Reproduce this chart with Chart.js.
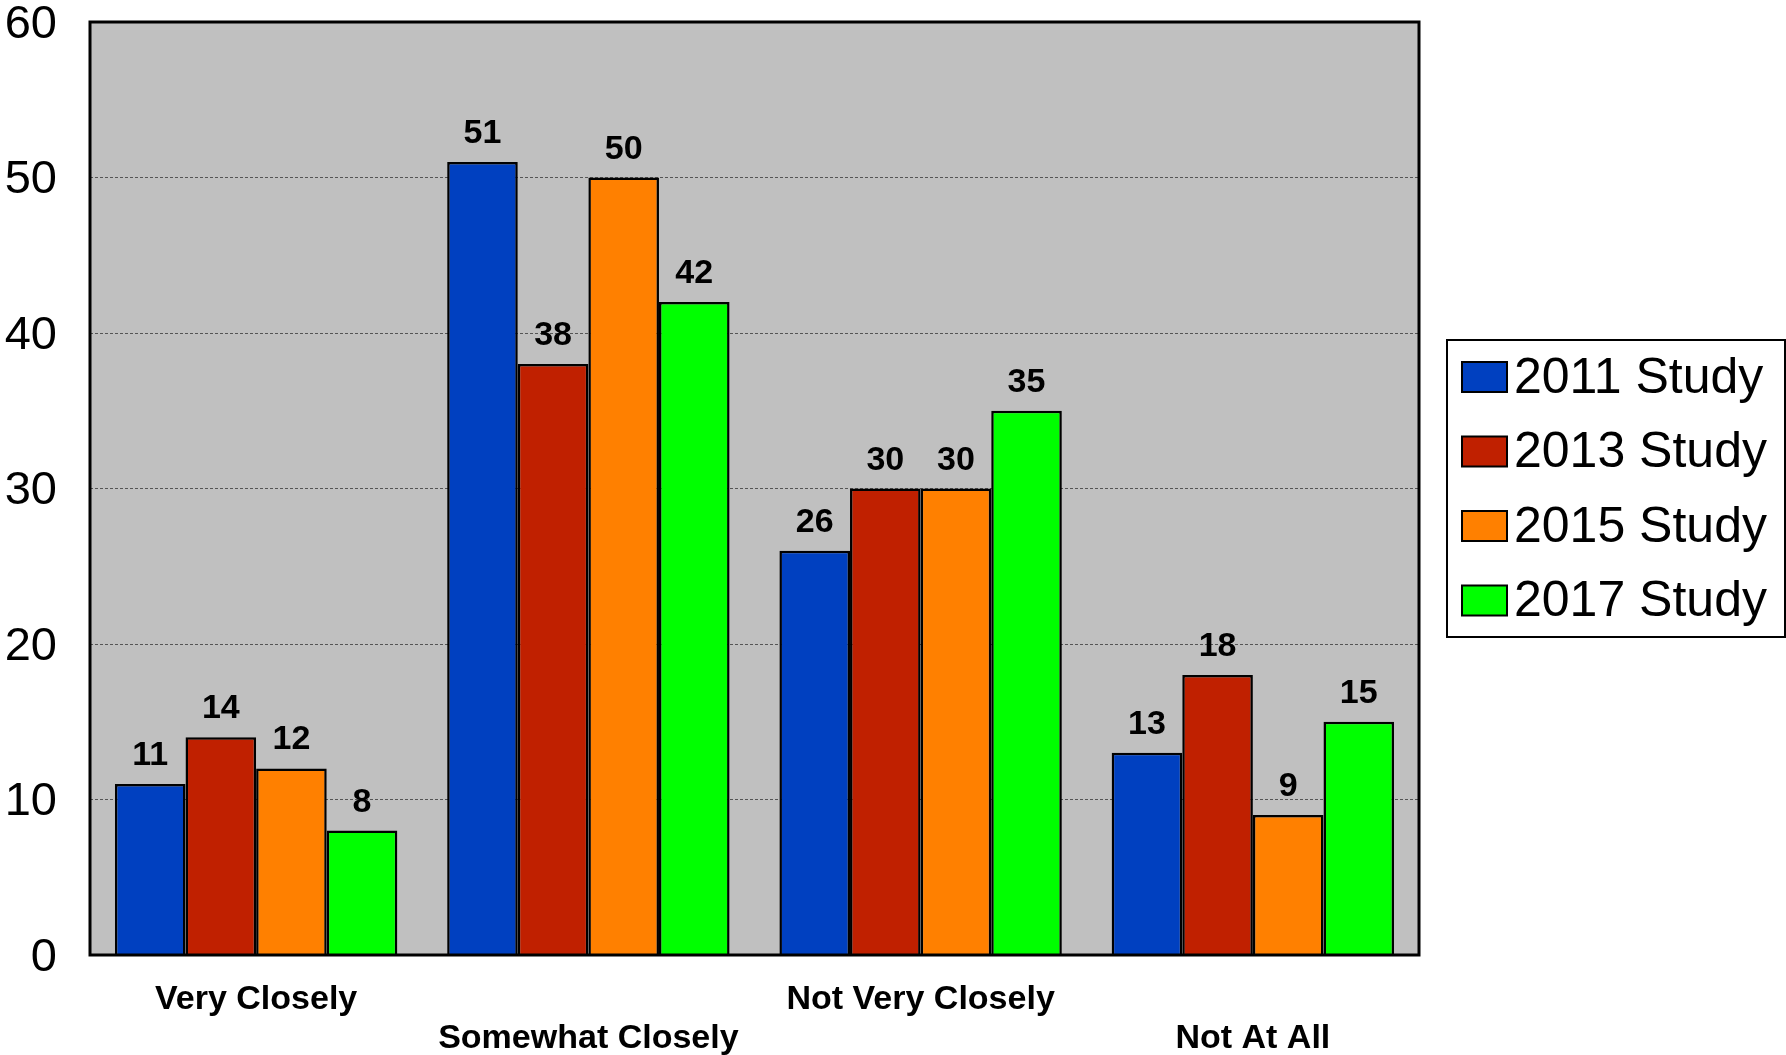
<!DOCTYPE html>
<html>
<head>
<meta charset="utf-8">
<script src="https://cdn.jsdelivr.net/npm/chart.js@4/dist/chart.umd.min.js"></script>
<style>
  html, body { margin: 0; padding: 0; background: #fff; }
  #wrap { width: 1786px; height: 1055px; }
</style>
</head>
<body>
<div id="wrap"><canvas id="grafico" width="1786" height="1055"></canvas></div>
<script>
const categorias = [['Very Closely', ''], ['', 'Somewhat Closely'], ['Not Very Closely', ''], ['', 'Not At All']];
const series = ['2011 Study', '2013 Study', '2015 Study', '2017 Study'];
const estudo2011 = [11, 51, 26, 13];
const estudo2013 = [14, 38, 30, 18];
const estudo2015 = [12, 50, 30, 9];
const estudo2017 = [8, 42, 35, 15];
const yTicks = [0, 10, 20, 30, 40, 50, 60];

const cores = ['#0040C0', '#C02000', '#FF8000', '#00FF00'];
const fonte = '"Liberation Sans", Arial, sans-serif';

// fundo cinza + moldura da área do gráfico
const fundoPlot = {
    id: 'fundoPlot',
    beforeDraw(chart) {
        const { ctx, chartArea: a } = chart;
        ctx.save();
        ctx.fillStyle = '#C0C0C0';
        ctx.fillRect(a.left, a.top, a.right - a.left, a.bottom - a.top);
        ctx.restore();
    },
    afterDatasetsDraw(chart) {
        const { ctx, chartArea: a } = chart;
        ctx.save();
        ctx.strokeStyle = '#000';
        ctx.lineWidth = 3;
        ctx.strokeRect(a.left, a.top, a.right - a.left, a.bottom - a.top);
        ctx.restore();
    }
};

// valores em cima das barras
const rotulos = {
    id: 'rotulos',
    afterDatasetsDraw(chart) {
        const ctx = chart.ctx;
        ctx.save();
        ctx.font = 'bold 34px ' + fonte;
        ctx.fillStyle = '#000';
        ctx.textAlign = 'center';
        ctx.textBaseline = 'alphabetic';
        chart.data.datasets.forEach((ds, i) => {
            chart.getDatasetMeta(i).data.forEach((bar, j) => {
                ctx.fillText(ds.data[j], bar.x, bar.y - 19);
            });
        });
        ctx.restore();
    }
};

// legenda com caixa
const legendaCaixa = {
    id: 'legendaCaixa',
    afterDraw(chart) {
        const ctx = chart.ctx;
        ctx.save();
        ctx.fillStyle = '#fff';
        ctx.fillRect(1447, 340, 338, 297);
        ctx.strokeStyle = '#000';
        ctx.lineWidth = 2;
        ctx.strokeRect(1447, 340, 338, 297);
        ctx.font = '50px ' + fonte;
        ctx.textBaseline = 'middle';
        ctx.textAlign = 'left';
        chart.data.datasets.forEach((ds, i) => {
            const y = 377 + i * 74.5;
            ctx.fillStyle = ds.backgroundColor;
            ctx.fillRect(1462, y - 15, 45, 30);
            ctx.lineWidth = 2;
            ctx.strokeStyle = '#000';
            ctx.strokeRect(1462, y - 15, 45, 30);
            ctx.fillStyle = '#000';
            ctx.fillText(ds.label, 1514, y + 2);
        });
        ctx.restore();
    }
};

const valores = [estudo2011, estudo2013, estudo2015, estudo2017];

new Chart(document.getElementById('grafico'), {
    type: 'bar',
    data: {
        labels: categorias,
        datasets: series.map((nome, i) => ({
            label: nome,
            data: valores[i],
            backgroundColor: cores[i],
            borderColor: '#000',
            borderWidth: 2.5,
            categoryPercentage: 0.85,
            barPercentage: 1
        }))
    },
    options: {
        responsive: false,
        animation: false,
        devicePixelRatio: 1,
        layout: { padding: { top: 22, right: 367, left: 0, bottom: 0 } },
        plugins: {
            legend: { display: false },
            tooltip: { enabled: false }
        },
        scales: {
            x: {
                grid: { display: false, drawTicks: false },
                border: { display: false },
                ticks: {
                    color: '#000',
                    font: { family: fonte, size: 34, weight: 'bold', lineHeight: 1.15 },
                    padding: 25,
                    autoSkip: false,
                    maxRotation: 0
                },
                afterFit(scale) {
                    scale.height = 100;
                    scale.paddingLeft = 0;
                    scale.paddingRight = 0;
                }
            },
            y: {
                min: 0,
                max: 60,
                afterBuildTicks(scale) { scale.ticks = yTicks.map(v => ({ value: v })); },
                grid: {
                    drawTicks: false,
                    color: (c) => (c.tick && (c.tick.value === 0 || c.tick.value === 60)) ? 'rgba(0,0,0,0)' : '#555',
                    lineWidth: 1
                },
                border: { display: false, dash: [3, 2] },
                ticks: {
                    color: '#000',
                    font: { family: fonte, size: 47 },
                    padding: 33,
                    labelOffset: 3
                },
                afterFit(scale) {
                    scale.width = 90;
                    scale.paddingTop = 0;
                    scale.paddingBottom = 0;
                }
            }
        }
    },
    plugins: [fundoPlot, rotulos, legendaCaixa]
});
</script>
</body>
</html>
